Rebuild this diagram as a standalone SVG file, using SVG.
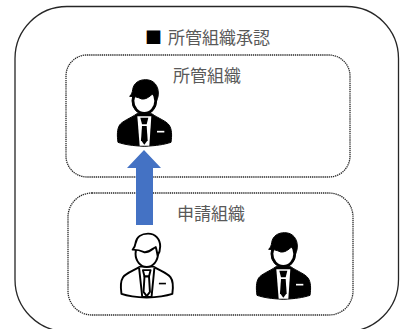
<svg xmlns="http://www.w3.org/2000/svg" width="400" height="329" viewBox="0 0 400 329">
<style>
.box{fill:none;stroke:#262626;stroke-width:1.3;stroke-dasharray:1.3 0.8}
.label{font-family:"Liberation Sans","Noto Sans CJK JP",sans-serif;font-size:17px;fill:#595959}
.mark{font-family:"Noto Sans CJK JP",sans-serif;font-size:17px;fill:#000}
.sb{fill:#000;stroke:#000;stroke-width:3;stroke-linejoin:round}
.sw{fill:#fff}
.st{fill:#000}
.sp{stroke:#fff;stroke-width:5;fill:none}
.lb{fill:#fff;stroke:#000;stroke-width:6;stroke-linejoin:round}
.lp{stroke:#000;stroke-width:5;fill:none}
</style>
<defs>
<g id="person-solid">
<path class="sb" d="M3,190C0,170 0,150 8,138C16,126 40,118 60,104L104,104C124,118 148,126 156,138C165,150 165,170 162,190C140,197 120,200 82,202C44,200 24,197 3,190Z"/>
<path class="sw" d="M61,112L103,112L97,200L68,200Z"/>
<path class="st" d="M70,116H94L89,136H75Z"/>
<path class="st" d="M75,141H89L92,184L82,197L72,184Z"/>
<path class="sp" d="M120,158H142"/>
<ellipse class="sb" cx="82" cy="65" rx="37" ry="42"/>
<ellipse class="sw" cx="82" cy="65" rx="30" ry="34"/>
<path class="sb" d="M38,52C44,46 46,40 47,32C50,12 66,2 86,2C110,2 124,20 124,42C124,55 120,64 116,70C114,60 113,52 110,44C102,46 92,62 74,60C62,54 50,52 38,52Z"/>
</g>
<g id="person-line">
<path class="lb" d="M3,190C0,170 0,150 8,138C16,126 40,118 60,106L104,106C124,118 148,126 156,138C165,150 165,170 162,190C140,197 120,200 82,202C44,200 24,197 3,190Z"/>
<path class="lb" d="M58,108L68,200H97L106,108"/>
<path class="lb" d="M70,116H94L89,136H75Z"/>
<path class="lb" d="M75,136H89L92,184L82,197L72,184Z"/>
<path class="lp" d="M120,158H142"/>
<ellipse class="lb" cx="82" cy="65" rx="35" ry="41"/>
<path class="lb" d="M38,52C44,46 46,40 47,32C50,12 66,2 86,2C110,2 124,20 124,42C124,55 120,64 116,70C114,60 113,52 110,44C102,46 92,62 74,60C62,54 50,52 38,52Z"/>
</g>
</defs>
<g id="outer"><rect x="15" y="6.500" width="383.500" height="325" rx="52" ry="52" fill="none" stroke="#262626" stroke-width="1.300"/></g>
<g id="title"><text class="mark" x="145" y="44">■</text><text class="label" x="168" y="44">所管組織承認</text></g>
<g id="org-approver"><rect class="box" x="66" y="55" width="284" height="122" rx="21"/><text class="label" x="173" y="82">所管組織</text></g>
<g id="org-applicant"><rect class="box" x="68" y="193" width="285" height="122" rx="24"/><text class="label" x="177" y="220">申請組織</text></g>
<g id="person-approver"><use href="#person-solid" transform="translate(117 79) scale(.3333)"/></g>
<g id="person-applicant"><use href="#person-line" transform="translate(120.500 233) scale(.32)"/></g>
<g id="person-colleague"><use href="#person-solid" transform="translate(256 232) scale(.3333)"/></g>
<g id="connectors"><path d="M136,225V168H127L144,150L161,168H153V225Z" fill="#4472C4"/></g>
</svg>
